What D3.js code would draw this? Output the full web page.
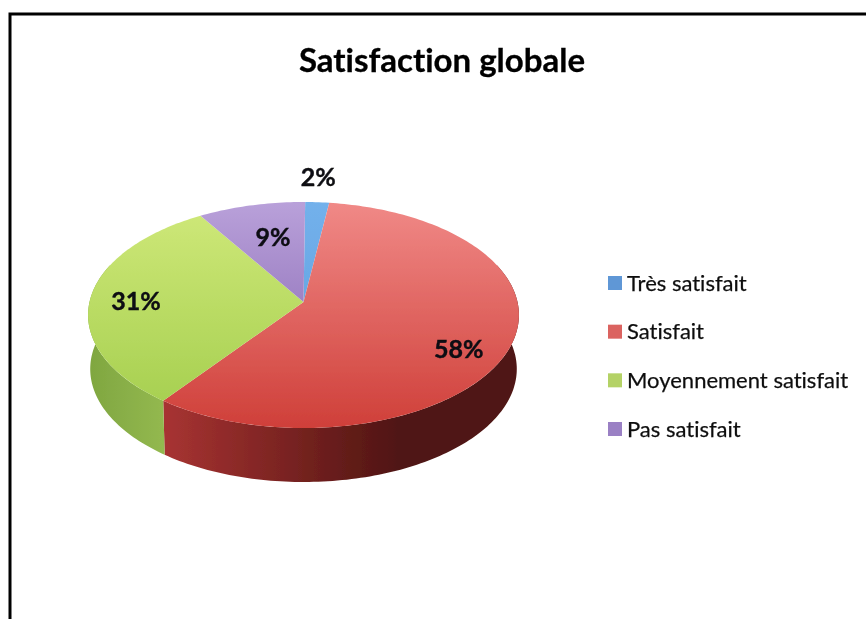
<!DOCTYPE html>
<html>
<head>
<meta charset="utf-8">
<script src="https://cdn.jsdelivr.net/npm/d3@7"></script>
<style>
	html, body { margin: 0; padding: 0; background: #fff; }
	svg { display: block; }
	text { font-variant-ligatures: none; }
</style>
</head>
<body>
<script>

const categories = [ "Très satisfait", "Satisfait", "Moyennement satisfait", "Pas satisfait" ];
const values = [ 2, 58, 31, 9 ];
const value_labels = [ "2%", "58%", "31%", "9%" ];
const top_colors = [ [ "#74b2ec", "#5b9bdc" ], [ "#f28d8b", "#cf3f39" ], [ "#d2ea7c", "#a2cd4c" ], [ "#bca4dc", "#7d5cab" ] ];
const side_colors = [ [ "#3f78b0", "#3f78b0" ], [ "#a83332", "#4f1512" ], [ "#7fa640", "#93b84f" ], [ "#5f4585", "#5f4585" ] ];
const legend_colors = [ "#5f97d6", "#db6360", "#b4d266", "#9a80c4" ];

const width = 866, height = 619;

// pie seen in perspective: k pulls the back of the disc in
const view = { cx: 303.5, cy: 302, rx: 214, ry: 111.5, k: 0.115, depth: 54, base: 0.99, start: 0.5 * Math.PI / 180 };

function project( angle, r = 1 )	{
	let u = r * Math.sin( angle );
	let v = -r * Math.cos( angle );
	let w = 1 - view.k * v;
	return( [ view.cx + view.rx * u / w, view.cy + view.ry * v / w ] );
}

function arc_points( a0, a1 )	{
	let n = Math.max( 2, Math.ceil( Math.abs( a1 - a0 ) / 0.02 ) );
	return( d3.range( n + 1 ).map( i => a0 + ( a1 - a0 ) * i / n ) );
}

let svg = d3.select( "body" )
	.append( "svg" )
		.attr( "width", width )
		.attr( "height", height )
		.attr( "viewBox", [ 0, 0, width, height ] );

let defs = svg.append( "defs" );

defs.append( "filter" )
	.attr( "id", "soft" )
	.append( "feGaussianBlur" )
		.attr( "stdDeviation", 0.75 );

let pie = d3.pie()
	.value( d => d )
	.sort( null )
	.startAngle( view.start )
	.endAngle( view.start + 2 * Math.PI );

let slices = pie( values );
let line = d3.line();

top_colors.forEach( ( c, i ) => {
	let g = defs.append( "linearGradient" )
		.attr( "id", "top" + i )
		.attr( "gradientUnits", "userSpaceOnUse" )
		.attr( "x1", 0 ).attr( "x2", 0 )
		.attr( "y1", view.cy - view.ry ).attr( "y2", view.cy + view.ry * 1.14 );
	g.append( "stop" ).attr( "offset", 0 ).attr( "stop-color", c[ 0 ] );
	g.append( "stop" ).attr( "offset", 1 ).attr( "stop-color", c[ 1 ] );
});

side_colors.forEach( ( c, i ) => {
	let g = defs.append( "linearGradient" )
		.attr( "id", "side" + i )
		.attr( "gradientUnits", "userSpaceOnUse" )
		.attr( "y1", 0 ).attr( "y2", 0 )
		.attr( "x1", i == 1 ? 163 : 88 ).attr( "x2", i == 1 ? 400 : 163 );
	g.append( "stop" ).attr( "offset", 0 ).attr( "stop-color", c[ 0 ] );
	g.append( "stop" ).attr( "offset", 1 ).attr( "stop-color", c[ 1 ] );
});

let chart = svg.append( "g" ).attr( "filter", "url(#soft)" );

// outer frame: top and left only, the rest is cropped off
chart.append( "path" )
	.attr( "d", line( [ [ 10, height + 4 ], [ 10, 14 ], [ width + 4, 14 ] ] ) )
	.attr( "fill", "none" )
	.attr( "stroke", "#000" )
	.attr( "stroke-width", 3 );

chart.append( "text" )
	.attr( "x", 442 )
	.attr( "y", 72 )
	.attr( "text-anchor", "middle" )
	.attr( "font-family", "Lato" )
	.attr( "font-weight", "bold" )
	.attr( "font-size", 33 )
	.attr( "fill", "#000" )
	.attr( "stroke", "#000" )
	.attr( "stroke-width", 0.3 )
	.text( "Satisfaction globale" );

// side wall: the rim runs a bit past the widest points, the top face hides the rest
let wall = chart.append( "g" );
slices.forEach( ( s, i ) => {
	let a0 = Math.max( s.startAngle, Math.PI / 2 - 0.35 );
	let a1 = Math.min( s.endAngle, 3 * Math.PI / 2 + 0.35 );
	if( a1 <= a0 ) return;
	let rim = arc_points( a0, a1 ).map( a => project( a ) );
	let low = rim.map( p => [ view.cx + ( p[ 0 ] - view.cx ) * view.base, p[ 1 ] + view.depth ] ).reverse();
	wall.append( "path" )
		.attr( "d", line( rim.concat( low ) ) + "Z" )
		.attr( "fill", `url(#side${i})` );
});

// top face
chart.append( "g" )
	.selectAll( "path" )
	.data( slices )
	.join( "path" )
		.attr( "d", d => line( [ [ view.cx, view.cy ] ].concat( arc_points( d.startAngle, d.endAngle ).map( a => project( a ) ) ) ) + "Z" )
		.attr( "fill", ( d, i ) => `url(#top${i})` );

// label spots, relative to each slice's middle
const label_radius = [ 1.287, 0.8, 0.783, 0.645 ];
const label_turn = [ -0.6, 8, -2, 2 ];

function label_pos( d, i )	{
	let a = ( d.startAngle + d.endAngle ) / 2 + label_turn[ i ] * Math.PI / 180;
	return( project( a, label_radius[ i ] ) );
}

chart.append( "g" )
	.selectAll( "text" )
	.data( slices )
	.join( "text" )
		.attr( "x", ( d, i ) => label_pos( d, i )[ 0 ] )
		.attr( "y", ( d, i ) => label_pos( d, i )[ 1 ] )
		.attr( "dy", "0.35em" )
		.attr( "text-anchor", "middle" )
		.attr( "font-family", "Lato" )
		.attr( "font-weight", "bold" )
		.attr( "font-size", 25 )
		.attr( "fill", "#0c0c12" )
		.attr( "stroke", "#0c0c12" )
		.attr( "stroke-width", 0.4 )
		.text( ( d, i ) => value_labels[ i ] );

// legend
let y_legend = d3.scalePoint()
	.domain( categories )
	.range( [ 283, 429 ] );

let legend = chart.append( "g" )
	.selectAll( "g" )
	.data( categories )
	.join( "g" )
		.attr( "transform", d => `translate(608,${y_legend( d )})` );

legend.append( "rect" )
	.attr( "y", -7 )
	.attr( "width", 14 )
	.attr( "height", 14 )
	.attr( "fill", ( d, i ) => legend_colors[ i ] );

legend.append( "text" )
	.attr( "x", 19 )
	.attr( "dy", "0.35em" )
	.attr( "font-family", "Lato" )
	.attr( "font-size", 22 )
	.attr( "fill", "#111" )
	.attr( "stroke", "#111" )
	.attr( "stroke-width", 0.25 )
	.text( d => d );

</script>
</body>
</html>
